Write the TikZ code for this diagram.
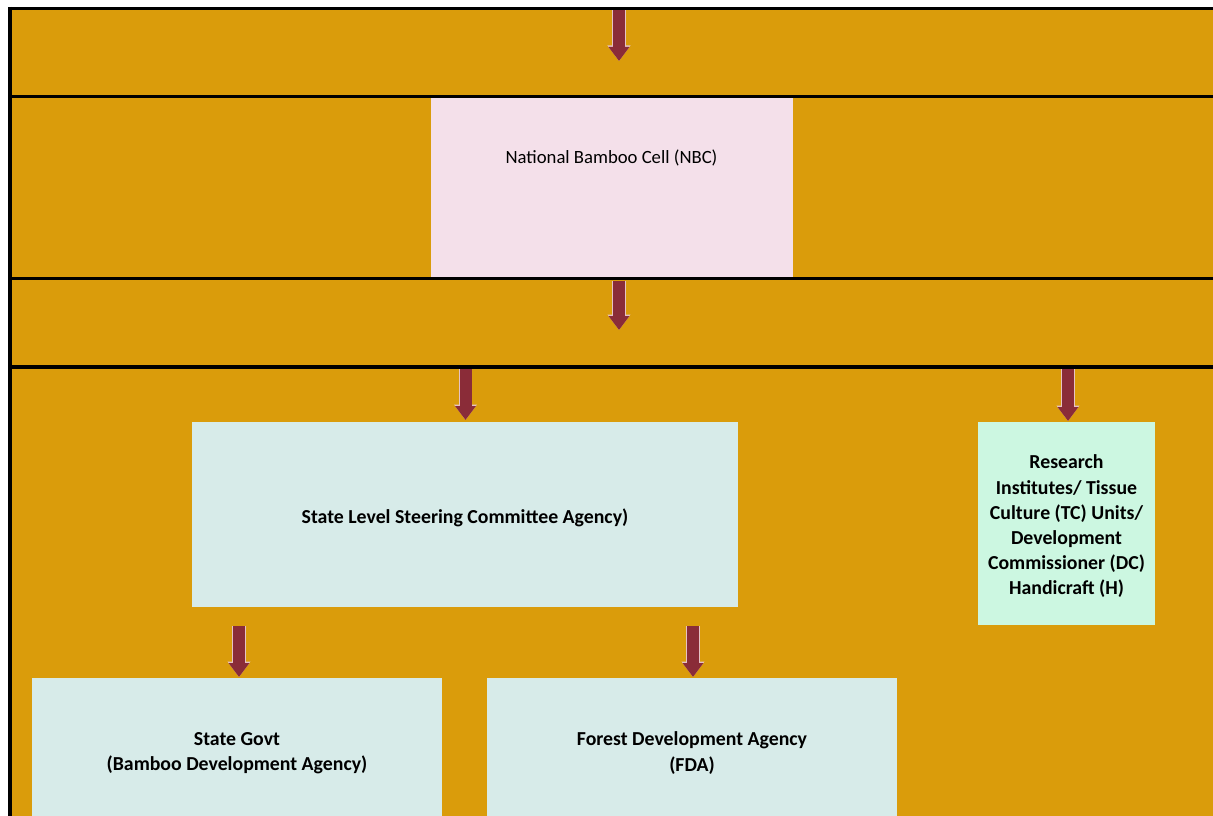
\documentclass[tikz,border=0pt]{standalone}
\usepackage{fontspec}
\setmainfont{Carlito}
\usetikzlibrary{arrows.meta}
\definecolor{bgorange}{HTML}{DA9C0B}
\definecolor{arrred}{HTML}{8A2C38}
\definecolor{arredge}{HTML}{E6C2C4}
\definecolor{pinkbox}{HTML}{F4E0EA}
\definecolor{tealbox}{HTML}{D7EBE9}
\definecolor{mintbox}{HTML}{CCF7E1}
\begin{document}
\begin{tikzpicture}[x=1pt,y=-1pt,
  bigarrow/.style={draw=arrred,line width=12pt,
     -{Triangle[width=20pt,length=14pt]},
     preaction={draw=arredge,line width=13.5pt,-{Triangle[width=22pt,length=15.5pt]}}},
  rule/.style={draw=black,line width=3.5pt},
  boxnode/.style={draw=none,inner sep=0pt,anchor=north west},
  lbl/.style={font=\fontsize{19.8}{25.2}\selectfont\bfseries,align=center}]
\useasboundingbox (0,0) rectangle (1213,816);
\fill[white] (0,0) rectangle (1213,816);
\fill[bgorange] (9.5,8.5) rectangle (1213,816);
% boxes
\node[boxnode,fill=pinkbox,minimum width=362pt,minimum height=179pt] (nbc) at (431,98) {};
\node[boxnode,fill=tealbox,minimum width=546pt,minimum height=185pt] (slsc) at (192,422) {};
\node[boxnode,fill=mintbox,minimum width=177pt,minimum height=203pt] (ri) at (978,422) {};
\node[boxnode,fill=tealbox,minimum width=410pt,minimum height=150pt] (sg) at (32,678) {};
\node[boxnode,fill=tealbox,minimum width=410pt,minimum height=150pt] (fda) at (487,678) {};
% rules
\draw[rule] (8,8.75) -- (1213,8.75);
\draw[rule] (9.75,7) -- (9.75,816);
\draw[rule] (11,96.5) -- (1213,96.5);
\draw[rule] (11,278.5) -- (1213,278.5);
\draw[rule,line width=4pt] (11,367) -- (1213,367);
% texts
\node[font=\fontsize{18.7}{22}\selectfont] (nbct) at (611.5,157.5) {National Bamboo Cell (NBC)};
\node[lbl] (slsct) at (465,518) {State Level Steering Committee Agency)};
\node[lbl] (rit) at (1066.5,526.5) {Research\\Institutes/ Tissue\\Culture (TC) Units/\\Development\\Commissioner (DC)\\Handicraft (H)};
\node[lbl] (sgt) at (237,753) {State Govt\\(Bamboo Development Agency)};
\node[lbl] (fdat) at (692,753) {Forest Development Agency\\(FDA)};
% arrow coordinates
\coordinate (a1s) at (619,10.5); \coordinate (a1e) at (619,61);
\coordinate (a2s) at (619,280.5); \coordinate (a2e) at (619,330);
\coordinate (a3s) at (465.5,369); \coordinate (a3e) at (465.5,420);
\coordinate (a4s) at (1068,369); \coordinate (a4e) at (1068,421);
\coordinate (a5s) at (239,626); \coordinate (a5e) at (239,677);
\coordinate (a6s) at (693,626); \coordinate (a6e) at (693,677);
\draw[bigarrow] (a1s) -- (a1e);
\draw[bigarrow] (a2s) -- (a2e);
\draw[bigarrow] (a3s) -- (a3e);
\draw[bigarrow] (a4s) -- (a4e);
\draw[bigarrow] (a5s) -- (a5e);
\draw[bigarrow] (a6s) -- (a6e);
\end{tikzpicture}
\end{document}
